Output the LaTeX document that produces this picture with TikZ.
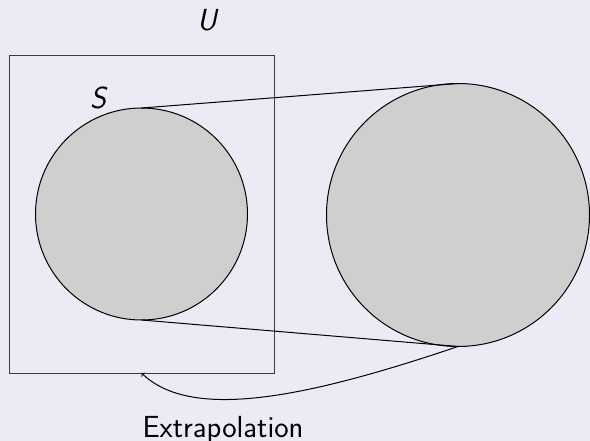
\documentclass[tikz,border=0pt]{standalone}
\usepackage{tikz}
\definecolor{bgcol}{RGB}{235,235,245}
\definecolor{fillgray}{RGB}{207,207,207}
\definecolor{rectcol}{RGB}{60,60,60}
\tikzset{
  setcircle/.style={circle, draw=black, fill=fillgray, line width=1pt, inner sep=0pt, outer sep=0pt},
  conn/.style={draw=black, line width=1pt},
  lbl/.style={font=\fontsize{30.5}{34}\selectfont\sffamily, inner sep=0pt},
}
\begin{document}
\begin{tikzpicture}[x=1pt,y=-1pt]
\fill[bgcol] (0,0) rectangle (590,441);
\useasboundingbox (0,0) rectangle (590,441);
\node[draw=rectcol, line width=1pt, minimum width=265pt, minimum height=317pt, inner sep=0pt, outer sep=0pt] (u) at (141.5,214.5) {};
\node[setcircle, minimum size=212pt] (s) at (141.5,214) {};
\node[setcircle, minimum size=263pt] (l) at (458,215) {};
\draw[conn] (s.north) -- (l.north);
\draw[conn] (s.south) -- (l.south);
\draw[conn, ->] (l.south) .. controls (300,400) and (190,420) .. (u.south);
\node[lbl] (ulbl) at (207,20) {\itshape U};
\node[lbl] (slbl) at (98,98) {\itshape S};
\node[lbl, anchor=base] (ext) at (223,437) {Extrapolation};
\end{tikzpicture}
\end{document}
